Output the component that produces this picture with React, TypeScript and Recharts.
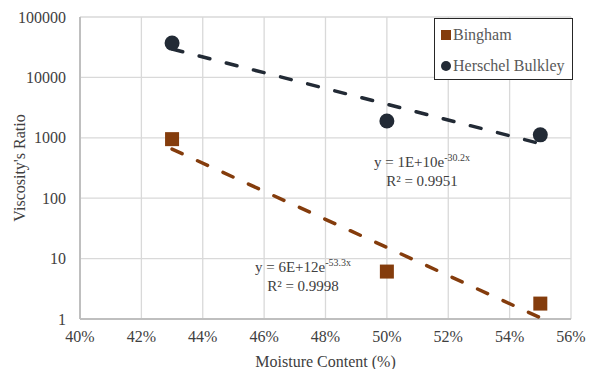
import React from 'react';
import { ScatterChart, Scatter, XAxis, YAxis, CartesianGrid } from 'recharts';

// moisture content (fraction) and measured viscosity ratios
const moisture = [0.43, 0.5, 0.55];
const binghamRatio = [950, 6.1, 1.8];
const herschelRatio = [37000, 1900, 1120];

// exponential trendline end values at 43% and 55%
const trendX = [0.43, 0.55];
const binghamTrend = [650, 1.05];
const herschelTrend = [29500, 800];

const xTicks = [0.4, 0.42, 0.44, 0.46, 0.48, 0.5, 0.52, 0.54, 0.56];
const yTicks = [1, 10, 100, 1000, 10000, 100000];

const BROWN = '#843C0C';
const NAVY = '#222A35';
const FONT = '"Liberation Serif", "Times New Roman", serif';

const zip = (xs: number[], ys: number[]) => xs.map((x, i) => ({ x, y: ys[i] }));

const binghamPts = zip(moisture, binghamRatio);
const herschelPts = zip(moisture, herschelRatio);
const binghamLine = zip(trendX, binghamTrend);
const herschelLine = zip(trendX, herschelTrend);

const Square = (p: any) => <rect x={p.cx - 7} y={p.cy - 7} width={14} height={14} fill={BROWN} />;
const Dot = (p: any) => <circle cx={p.cx} cy={p.cy} r={7.5} fill={NAVY} />;
const Nothing = () => <g />;

const tickStyle = { fill: '#404040', fontSize: 16, fontFamily: FONT };

export default function App() {
  return (
    <div style={{ position: 'absolute', left: 0, top: 0, width: 591, height: 369, background: '#fff', fontFamily: FONT }}>
      <ScatterChart width={591} height={369} margin={{ top: 17, right: 20, bottom: 0, left: 0 }}>
        <CartesianGrid stroke="#D9D9D9" strokeWidth={1.3} />
        <XAxis
          type="number"
          dataKey="x"
          domain={[0.4, 0.56]}
          ticks={xTicks}
          tickFormatter={(v: number) => `${Math.round(v * 100)}%`}
          tick={tickStyle}
          tickLine={false}
          tickSize={6}
          tickMargin={6}
          axisLine={{ stroke: '#BFBFBF', strokeWidth: 2 }}
          height={50}
          label={{ value: 'Moisture Content (%)', position: 'insideBottom', offset: 0, dy: -2, style: { fill: '#404040', fontSize: 16, fontFamily: FONT } }}
        />
        <YAxis
          type="number"
          dataKey="y"
          scale="log"
          domain={[1, 100000]}
          ticks={yTicks}
          allowDataOverflow
          tick={tickStyle}
          tickLine={false}
          tickSize={6}
          tickMargin={8}
          axisLine={{ stroke: '#BFBFBF', strokeWidth: 2 }}
          width={80}
          label={{ value: "Viscosity's Ratio", angle: -90, position: 'insideLeft', offset: 19, style: { textAnchor: 'middle', fill: '#404040', fontSize: 16, fontFamily: FONT } }}
        />
        <Scatter
          data={binghamLine}
          line={{ stroke: BROWN, strokeWidth: 3.5, strokeDasharray: '11 17', strokeLinecap: 'round' }}
          lineType="joint"
          shape={Nothing}
          isAnimationActive={false}
        />
        <Scatter
          data={herschelLine}
          line={{ stroke: NAVY, strokeWidth: 3.5, strokeDasharray: '11 17', strokeLinecap: 'round' }}
          lineType="joint"
          shape={Nothing}
          isAnimationActive={false}
        />
        <Scatter name="Bingham" data={binghamPts} shape={Square} isAnimationActive={false} />
        <Scatter name="Herschel Bulkley" data={herschelPts} shape={Dot} isAnimationActive={false} />
      </ScatterChart>

      {/* legend */}
      <div style={{ position: 'absolute', left: 434, top: 18, width: 137, height: 60, border: '1.5px solid #262626', background: '#fff', color: '#595959', fontSize: 16 }}>
        <div style={{ position: 'absolute', left: 6, top: 7, display: 'flex', alignItems: 'center' }}>
          <span style={{ width: 10, height: 10, background: BROWN, display: 'inline-block', marginRight: 2 }} />
          Bingham
        </div>
        <div style={{ position: 'absolute', left: 6, top: 38, display: 'flex', alignItems: 'center' }}>
          <span style={{ width: 10, height: 10, borderRadius: 5, background: NAVY, display: 'inline-block', marginRight: 2 }} />
          Herschel Bulkley
        </div>
      </div>

      {/* trendline equations */}
      <div style={{ position: 'absolute', left: 370, top: 148, color: '#404040', fontSize: 15, lineHeight: '19px', textAlign: 'center', width: 104 }}>
        <div>y = 1E+10e<sup style={{ fontSize: 10, verticalAlign: 6 }}>-30.2x</sup></div>
        <div>R² = 0.9951</div>
      </div>
      <div style={{ position: 'absolute', left: 251, top: 253, color: '#404040', fontSize: 15, lineHeight: '19px', textAlign: 'center', width: 104 }}>
        <div>y = 6E+12e<sup style={{ fontSize: 10, verticalAlign: 6 }}>-53.3x</sup></div>
        <div>R² = 0.9998</div>
      </div>
    </div>
  );
}
